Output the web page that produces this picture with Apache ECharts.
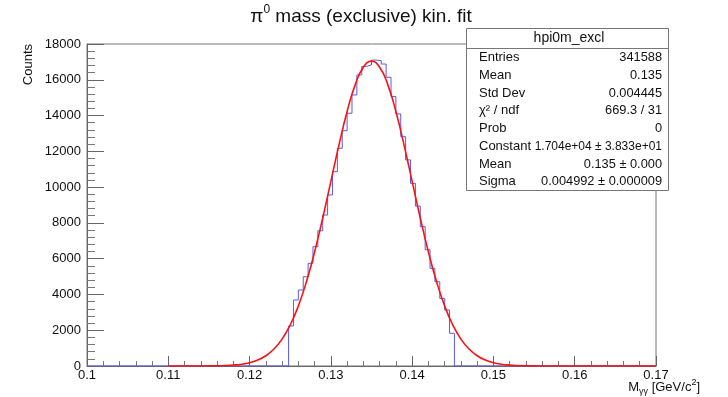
<!DOCTYPE html>
<html><head><meta charset="utf-8">
<script src="https://cdn.jsdelivr.net/npm/echarts@6/dist/echarts.min.js"></script>
<style>html,body{margin:0;padding:0;background:#fff}#c{width:728px;height:397px}</style>
</head><body><div id="c"></div>
<script>
// Histogram: bins of width 0.0006 starting at 0.1248 (34 non-empty bins)
const histStart = 0.1248;
const binWidth = 0.0006;
const counts = [2236, 3690, 4250, 4990, 5740, 6670, 7560, 8440, 9560, 10860, 12170, 13150, 14130, 15150,
  16270, 16750, 16830, 17100, 17070, 16880, 16140, 15060,
  14090, 12820, 11520, 10210, 8940, 7790, 6500, 5460, 4710, 3780, 3130, 1830];
// Fit curve read at 0.001 steps from 0.110 to 0.170
const fitStart = 0.110;
const fitStep = 0.001;
const fitValues = [0, 0, 1, 2, 3, 6, 12, 26, 52, 100, 187, 334, 574, 947, 1503, 2292, 3355, 4719, 6376, 8275,
  10320, 12360, 14230, 15730, 16700, 17040, 16700, 15730, 14230, 12360, 10320, 8275, 6376, 4719, 3355, 2292,
  1503, 947, 574, 334, 187, 100, 52, 26, 12, 6, 3, 2, 1, 0, 0, 0, 0, 0, 0, 0, 0, 0, 0, 0, 0];
const xTicks = [0.1, 0.11, 0.12, 0.13, 0.14, 0.15, 0.16, 0.17];
const yTicks = [0, 2000, 4000, 6000, 8000, 10000, 12000, 14000, 16000, 18000];
const statsLabels = ['Entries', 'Mean', 'Std Dev', 'χ² / ndf', 'Prob', 'Constant', 'Mean', 'Sigma'];
const statsValues = ['341588', '0.135', '0.004445', '669.3 / 31', '0', '1.704e+04 ± 3.833e+01', '0.135 ± 0.000', '0.004992 ± 0.000009'];
const histName = 'hpi0m_excl';

const FONT = '"Liberation Sans", Arial, Helvetica, sans-serif';
const histData = [[0.1, 0]];
counts.forEach((c, i) => histData.push([+(histStart + i * binWidth).toFixed(5), c]));
histData.push([+(histStart + counts.length * binWidth).toFixed(5), 0]);
histData.push([0.17, 0]);
const fitData = fitValues.map((v, i) => [+(fitStart + i * fitStep).toFixed(4), v]);

const chart = echarts.init(document.getElementById('c'), null, {renderer: 'canvas'});
const rowY0 = 57.5, rowDY = 17.75;
const statsGraphics = [
  {type: 'rect', shape: {x: 466.5, y: 28.5, width: 202, height: 162}, style: {fill: '#fff', stroke: '#777', lineWidth: 1}, z: 10},
  {type: 'line', shape: {x1: 466.5, y1: 48.5, x2: 668.5, y2: 48.5}, style: {stroke: '#777', lineWidth: 1}, z: 11},
  {type: 'text', x: 569, y: 38.5, style: {text: histName, font: '14px ' + FONT, fill: '#111', align: 'center', verticalAlign: 'middle'}, z: 11}
];
statsLabels.forEach((l, i) => {
  statsGraphics.push({type: 'text', x: 479, y: rowY0 + i * rowDY, style: {text: l, font: '13px ' + FONT, fill: '#111', align: 'left', verticalAlign: 'middle'}, z: 11});
  const fs = statsValues[i].length > 20 ? 12 : 12.8;
  statsGraphics.push({type: 'text', x: 662, y: rowY0 + i * rowDY, style: {text: statsValues[i], font: fs + 'px ' + FONT, fill: '#111', align: 'right', verticalAlign: 'middle'}, z: 11});
});

chart.setOption({
  animation: false,
  backgroundColor: '#fff',
  grid: {left: 87, right: 72, top: 44, bottom: 31, show: true, borderColor: '#777', borderWidth: 1},
  xAxis: {
    type: 'value', min: xTicks[0], max: xTicks[xTicks.length - 1], interval: 0.01,
    axisLine: {show: true, onZero: false, lineStyle: {color: '#666'}},
    axisTick: {show: true, inside: true, length: 10, lineStyle: {color: '#666'}},
    minorTick: {show: true, splitNumber: 5, length: 5, lineStyle: {color: '#777'}},
    splitLine: {show: false},
    axisLabel: {fontSize: 13, color: '#111', fontFamily: FONT, margin: 3, formatter: v => String(parseFloat((+v).toFixed(3)))}
  },
  yAxis: {
    type: 'value', min: yTicks[0], max: yTicks[yTicks.length - 1], interval: 2000,
    axisLine: {show: true, lineStyle: {color: '#666'}},
    axisTick: {show: true, inside: true, length: 17, lineStyle: {color: '#666'}},
    minorTick: {show: true, splitNumber: 5, length: 8, lineStyle: {color: '#777'}},
    splitLine: {show: false},
    axisLabel: {fontSize: 13, color: '#111', fontFamily: FONT, margin: 6, formatter: v => String(Math.round(v))}
  },
  series: [
    {type: 'line', data: histData, step: 'end', showSymbol: false, symbol: 'none',
     lineStyle: {color: '#5a5ae8', width: 1}, z: 2, silent: true},
    {type: 'line', data: fitData, smooth: true, showSymbol: false, symbol: 'none',
     lineStyle: {color: '#ff1010', width: 1.6}, z: 3, silent: true}
  ],
  graphic: [
    {type: 'text', x: 361, y: 15, style: {
      text: '{a|π}{s|0}{a| mass (exclusive) kin. fit}', align: 'center', verticalAlign: 'middle',
      rich: {a: {fontSize: 19, fontFamily: FONT, fill: '#111', lineHeight: 22, verticalAlign: 'bottom'},
             s: {fontSize: 12, fontFamily: FONT, fill: '#111', lineHeight: 22, verticalAlign: 'top'}}}},
    {type: 'text', x: 28, y: 44, rotation: Math.PI / 2, style: {text: 'Counts', font: '13px ' + FONT, fill: '#111', align: 'right', verticalAlign: 'middle'}},
    {type: 'text', x: 700, y: 387, style: {
      text: '{a|M}{b|γγ}{a| [GeV/c}{s|2}{a|]}', align: 'right', verticalAlign: 'middle',
      rich: {a: {fontSize: 13, fontFamily: FONT, fill: '#111', lineHeight: 18, verticalAlign: 'middle'},
             b: {fontSize: 9, fontFamily: FONT, fill: '#111', lineHeight: 18, verticalAlign: 'bottom'},
             s: {fontSize: 9, fontFamily: FONT, fill: '#111', lineHeight: 18, verticalAlign: 'top'}}}},
    ...statsGraphics
  ]
});
</script></body></html>
